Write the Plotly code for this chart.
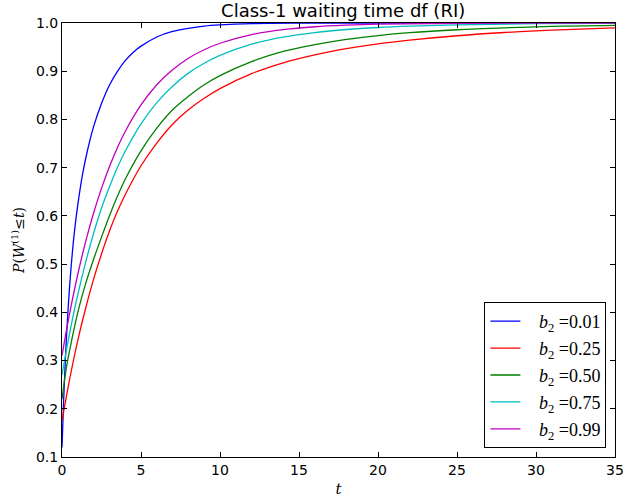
import plotly.graph_objects as go

title = "Class-1 waiting time df (RI)"
labels = ["0.01", "0.25", "0.50", "0.75", "0.99"]
colors = ["#0000ff", "#ff0000", "#008000", "#00bfbf", "#bf00bf"]

t_b001 = [0, 0.1, 0.2, 0.3, 0.45, 0.62, 0.8, 1.0, 1.3, 1.6, 2.0, 2.5, 3.0, 3.5, 4.0, 4.5, 5.0, 6.0, 7.0, 8.0, 9.0, 10, 12, 15, 20, 35]
p_b001 = [0.12, 0.214, 0.293, 0.359, 0.439, 0.511, 0.571, 0.623, 0.686, 0.734, 0.785, 0.833, 0.871, 0.899, 0.922, 0.939, 0.952, 0.971, 0.9825, 0.989, 0.9936, 0.996, 0.9986, 0.9997, 1.0, 1.0]

t_b025 = [0, 0.5, 1.0, 1.5, 2.0, 2.5, 3.0, 3.5, 4.0, 5.0, 6.0, 7.0, 8.0, 9.0, 10, 12, 14, 16, 18, 20, 22, 25, 28, 31, 35]
p_b025 = [0.175, 0.264, 0.342, 0.409, 0.469, 0.521, 0.568, 0.609, 0.644, 0.704, 0.751, 0.790, 0.820, 0.844, 0.864, 0.895, 0.9175, 0.934, 0.9467, 0.9567, 0.9645, 0.9736, 0.9803, 0.9852, 0.9899]

t_b050 = [0, 0.3, 0.6, 1.0, 1.5, 2.0, 2.5, 3.0, 3.5, 4.0, 5.0, 6.0, 7.0, 8.0, 9.0, 10, 12, 14, 16, 18, 20, 22, 25, 28, 31, 35]
p_b050 = [0.22, 0.29, 0.34, 0.40, 0.46, 0.51, 0.556, 0.60, 0.64, 0.676, 0.735, 0.782, 0.82, 0.848, 0.872, 0.891, 0.920, 0.941, 0.955, 0.966, 0.974, 0.980, 0.986, 0.990, 0.993, 0.995]

t_b075 = [0, 0.3, 0.6, 1.0, 1.5, 2.0, 2.5, 3.0, 3.5, 4.0, 5.0, 6.0, 7.0, 8.0, 9.0, 10, 12, 14, 16, 18, 20, 22, 25, 30, 35]
p_b075 = [0.27, 0.325, 0.376, 0.437, 0.504, 0.564, 0.616, 0.660, 0.700, 0.734, 0.791, 0.835, 0.869, 0.896, 0.9165, 0.9327, 0.956, 0.9706, 0.980, 0.9865, 0.9907, 0.9935, 0.9963, 0.9985, 0.9994]

t_b099 = [0, 0.3, 0.6, 1.0, 1.5, 2.0, 2.5, 3.0, 3.5, 4.0, 5.0, 6.0, 7.0, 8.0, 9.0, 10, 12, 14, 16, 18, 20, 25, 35]
p_b099 = [0.31, 0.366, 0.417, 0.479, 0.547, 0.606, 0.657, 0.702, 0.741, 0.775, 0.830, 0.872, 0.903, 0.927, 0.9445, 0.958, 0.976, 0.9863, 0.9922, 0.9955, 0.9975, 0.9994, 1.0]

series = [(t_b001, p_b001), (t_b025, p_b025), (t_b050, p_b050), (t_b075, p_b075), (t_b099, p_b099)]

x_ticks = [0, 5, 10, 15, 20, 25, 30, 35]
y_ticks = [0.1, 0.2, 0.3, 0.4, 0.5, 0.6, 0.7, 0.8, 0.9, 1.0]

fig = go.Figure()
for i, ((tx, py), lab, col) in enumerate(zip(series, labels, colors)):
    fig.add_trace(go.Scatter(
        x=tx, y=py, mode="lines",
        line=dict(color=col, width=1.3, shape="spline", smoothing=1.0),
        name="&nbsp;&nbsp;&nbsp;<i>b</i><sub>2</sub> =" + lab,
        legendgroup=str(i),
    ))

axis_common = dict(
    showline=True, linecolor="black", linewidth=1, mirror="ticks",
    ticks="inside", ticklen=5, tickcolor="black", tickwidth=1,
    showgrid=False, zeroline=False, ticklabeloverflow="allow",
    tickfont=dict(family="DejaVu Sans", size=14, color="black"),
)

fig.update_layout(
    width=632, height=502,
    margin=dict(l=62, r=8, t=23, b=44),
    paper_bgcolor="white", plot_bgcolor="white",
    title=dict(text=title, x=0.543, xanchor="center", y=0.978, yanchor="middle",
               font=dict(family="DejaVu Sans", size=18, color="black")),
    xaxis=dict(range=[0, 35], tickvals=x_ticks, ticktext=[str(v) for v in x_ticks],
               title=dict(text="<i>t</i>", font=dict(family="DejaVu Serif", size=15, color="black"), standoff=6),
               **axis_common),
    yaxis=dict(range=[0.1, 1.0], tickvals=y_ticks, ticktext=[f"{v:.1f}" for v in y_ticks],
               title=dict(text="<i>P</i>(<i>W</i><sup>(1)</sup>≤<i>t</i>)",
                          font=dict(family="DejaVu Serif", size=14, color="black"), standoff=8),
               **axis_common),
    legend=dict(x=0.9845, xanchor="right", y=0.0207, yanchor="bottom",
                bordercolor="black", borderwidth=1, bgcolor="white",
                font=dict(family="Liberation Serif", size=18, color="black"),
                tracegroupgap=0.5, itemwidth=30),
    showlegend=True,
)

fig.write_html("out.html", config={"displayModeBar": False},
               post_script="document.body.style.margin='0';")
